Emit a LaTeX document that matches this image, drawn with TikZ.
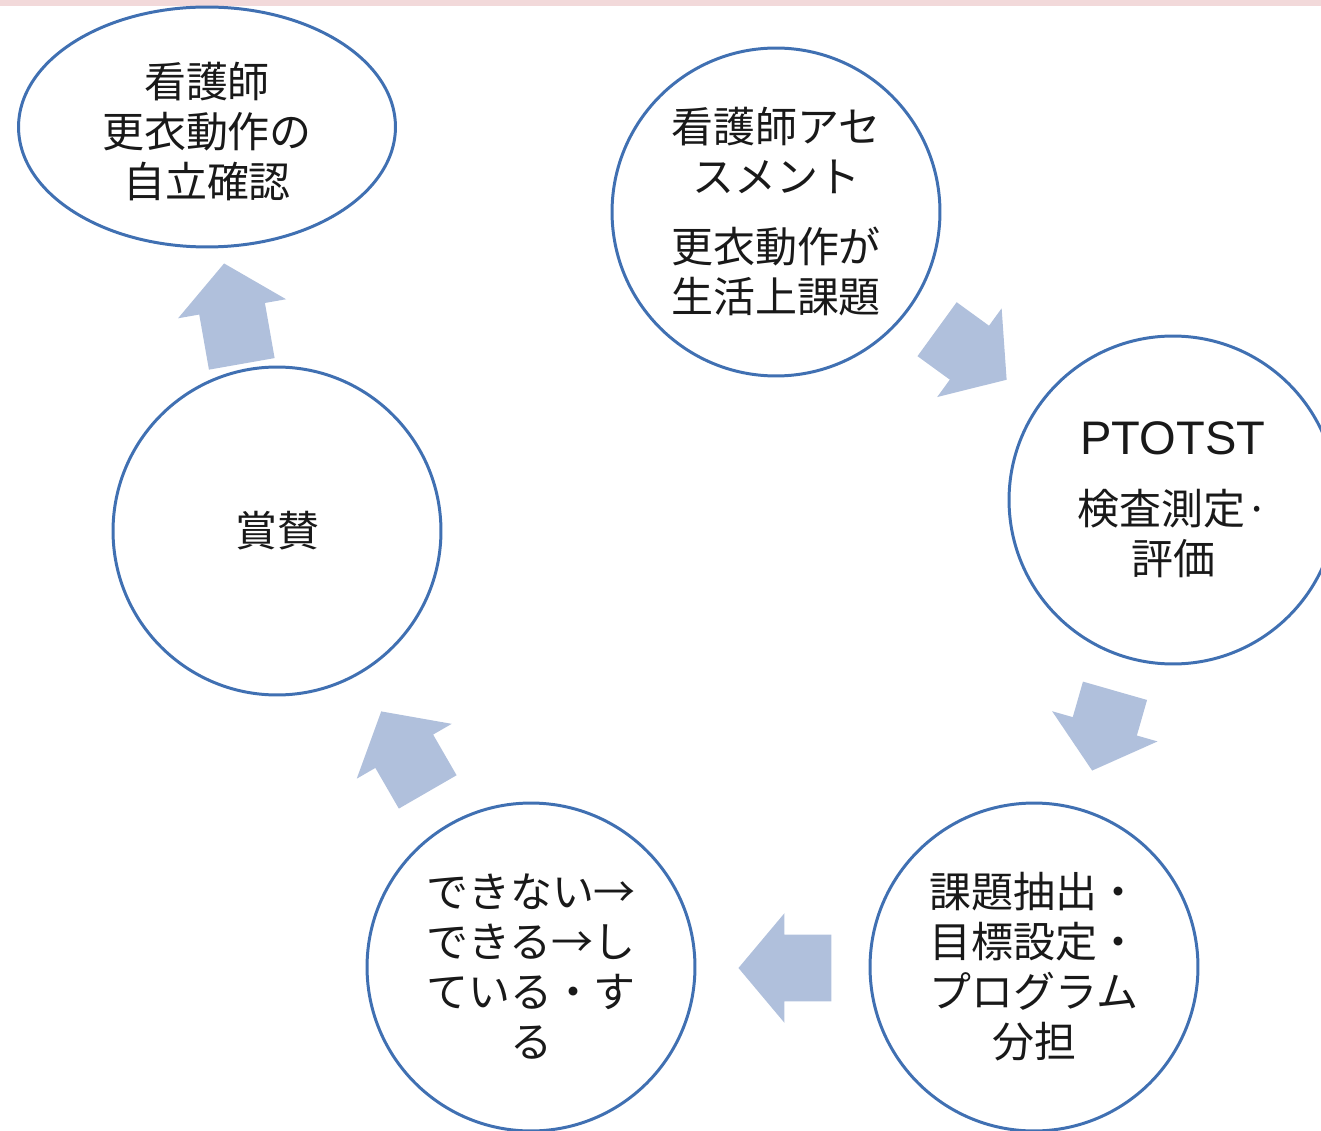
\documentclass[tikz,border=0pt]{standalone}
\usepackage{fontspec}
\setmainfont{Noto Sans CJK JP}
\newfontfamily\latinfont{Liberation Sans}
\usetikzlibrary{shapes, shapes.arrows, positioning}
\definecolor{ringblue}{RGB}{64,112,178}
\definecolor{flowblue}{RGB}{176,192,220}
\definecolor{bandpink}{RGB}{242,217,218}
\tikzstyle{caption}=[align=center, text=black!90, font=\fontsize{23.9}{28.45}\selectfont]
\tikzstyle{stage}=[shape=circle, draw=ringblue, fill=white, line width=1.7pt, minimum size=6.56cm, inner sep=0pt, caption]
\tikzstyle{goal}=[shape=ellipse, draw=ringblue, fill=white, line width=1.7pt, minimum width=7.54cm, minimum height=4.8cm, inner sep=0pt]
\tikzstyle{flow}=[single arrow, fill=flowblue, draw=none, inner xsep=0pt, inner ysep=0.66cm, minimum width=2.18cm, single arrow head extend=0.43cm, single arrow tip angle=100, anchor=tip]

\begin{document}
\begin{tikzpicture}[x=0.02cm, y=-0.02cm]
\clip (0,0) rectangle (1321,1131);
\fill [bandpink] (0,0) rectangle (1321,6);
\node [goal, label={[caption, yshift=-0.1cm]center:{看護師\\更衣動作の\\自立確認}}] (check) at (207,127) {};
\node [stage] (assess) at (776,212) {看護師アセ\\スメント\\[0.4cm]更衣動作が\\生活上課題};
\node [stage] (eval) at (1173,500) {{\latinfont\fontsize{26.8}{28.45}\selectfont PTOTST}\\[0.4cm]検査測定·\\評価};
\node [stage] (plan) at (1034,967) {課題抽出・\\目標設定・\\プログラム\\分担};
\node [stage] (train) at (531,967) {できない→\\できる→し\\ている・す\\る};
\node [stage] (praise) at (277,531) {賞賛};
\node [flow, rotate=-36, minimum height=1.72cm] (f1) at (1007,380) {};
\node [flow, rotate=-106, minimum height=1.66cm] (f2) at (1092,771) {};
\node [flow, rotate=180, minimum height=1.86cm] (f3) at (738,968) {};
\node [flow, rotate=120, minimum height=1.86cm] (f4) at (381,711) {};
\node [flow, rotate=100, minimum height=2.04cm] (f5) at (224,263) {};
\end{tikzpicture}
\end{document}
